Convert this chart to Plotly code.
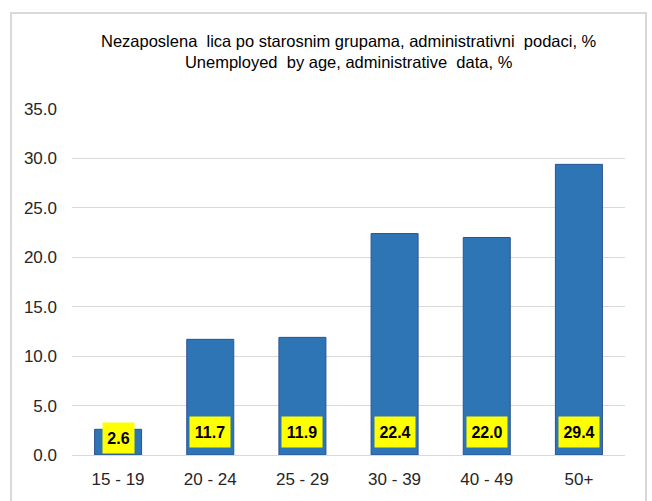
import plotly.graph_objects as go

categories = ["15 - 19", "20 - 24", "25 - 29", "30 - 39", "40 - 49", "50+"]
values = [2.6, 11.7, 11.9, 22.4, 22.0, 29.4]
y_ticks = [0, 5, 10, 15, 20, 25, 30, 35]
title_lines = ["Nezaposlena  lica po starosnim grupama, administrativni  podaci, %",
               "Unemployed  by age, administrative  data, %"]

W, H = 652, 501
ML, MR, MT, MB = 72, 27, 109, 46
FONT = "Liberation Sans, Arial, sans-serif"

fig = go.Figure()
fig.add_trace(go.Bar(
    x=categories, y=values,
    marker=dict(color="#2E75B6", line=dict(color="#2F528F", width=1)),
    hoverinfo="x+y",
))

annotations = []
for i, (c, v) in enumerate(zip(categories, values)):
    txt = f"{v:.1f}"
    annotations.append(dict(
        x=c, y=0, xref="x", yref="y", text=f"<b>{txt}</b>",
        showarrow=False, yanchor="bottom",
        yshift=1 if i == 0 else 7,
        bgcolor="#FFFF00", width=9 * len(txt) + 4, height=30, borderpad=0,
        font=dict(family=FONT, size=16, color="#000000"),
    ))

pw = W - ML - MR
ph = H - MT - MB

annotations.append(dict(
    x=0.5, xref="paper", y=1 + (MT - 51) / ph, yref="paper",
    text="<br>".join(title_lines), showarrow=False, align="center",
    yanchor="middle", font=dict(family=FONT, size=16.5, color="#000000"),
))

shapes = [dict(
    type="rect", xref="paper", yref="paper",
    x0=(11 - ML) / pw, x1=(646 - ML) / pw,
    y0=-(H + 5 - MT - ph) / ph, y1=1 + (MT - 13) / ph,
    line=dict(color="#D9D9D9", width=2), fillcolor="rgba(0,0,0,0)", layer="below",
)]

fig.update_layout(
    width=W, height=H,
    margin=dict(l=ML, r=MR, t=MT, b=MB, pad=0),
    paper_bgcolor="#FFFFFF", plot_bgcolor="#FFFFFF",
    bargap=0.49, showlegend=False,
    annotations=annotations, shapes=shapes,
    font=dict(family=FONT, size=16, color="#262626"),
    xaxis=dict(showgrid=False, showline=False, ticks="", zeroline=False,
               ticklabelstandoff=12,
               tickfont=dict(family=FONT, size=17, color="#262626")),
    yaxis=dict(range=[0, 35], tickvals=y_ticks,
               ticktext=[f"{t:.1f}" for t in y_ticks],
               showgrid=True, gridcolor="#D9D9D9", gridwidth=1,
               zeroline=True, zerolinecolor="#D9D9D9", zerolinewidth=1,
               showline=False, ticks="", ticklabelstandoff=14,
               tickfont=dict(family=FONT, size=17, color="#262626")),
)

fig.write_html("out.html", config={"displayModeBar": False},
               post_script="document.body.style.margin='0';document.body.style.padding='0';")
